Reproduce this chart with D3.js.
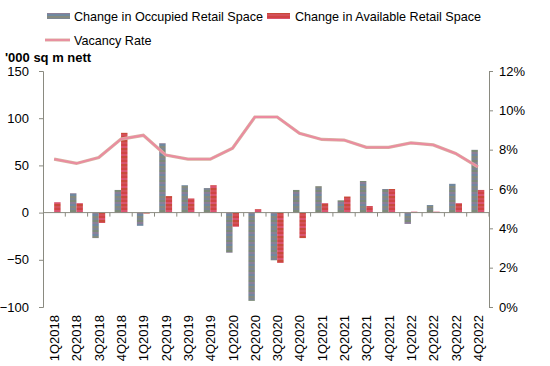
<!DOCTYPE html>
<html>
<head>
<meta charset="utf-8">
<script src="https://cdn.jsdelivr.net/npm/d3@7"></script>
<style>
  body { margin: 0; background: #fff; }
  text { font-family: "Liberation Sans", Arial, sans-serif; }
</style>
</head>
<body>
<script>
// retail space chart
const quarters = ["1Q2018","2Q2018","3Q2018","4Q2018","1Q2019","2Q2019","3Q2019","4Q2019",
  "1Q2020","2Q2020","3Q2020","4Q2020","1Q2021","2Q2021","3Q2021","4Q2021",
  "1Q2022","2Q2022","3Q2022","4Q2022"];
const occupied = [0, 20.5, -27, 24, -14, 73.5, 29, 26, -42.5, -93.5, -50.5, 24, 28, 13, 33.5, 25, -12, 8, 30.5, 66.5];
const available = [11, 10, -11, 84.5, -1, 17.5, 15, 29, -15, 3.6, -53.3, -27, 10, 17, 7, 25, 1, 1, 10, 24];
const vacancy = [7.52, 7.3, 7.6, 8.54, 8.73, 7.73, 7.52, 7.52, 8.07, 9.66, 9.66, 8.83, 8.52, 8.49, 8.12, 8.12, 8.34, 8.24, 7.81, 7.13];
const leftTicks = [-100, -50, 0, 50, 100, 150];
const rightTicks = [0, 2, 4, 6, 8, 10, 12];

const width = 550, height = 366;
const m = { left: 43, right: 61, top: 71, bottom: 59 };

const svg = d3.select("body").append("svg")
  .attr("width", width).attr("height", height);

// mottled fills
const defs = svg.append("defs");
function stripes(id, cols) {
  const p = defs.append("pattern").attr("id", id)
    .attr("patternUnits", "userSpaceOnUse")
    .attr("width", 4).attr("height", cols.length * 2);
  cols.forEach((c, i) => {
    p.append("rect").attr("x", 0).attr("y", i * 2).attr("width", 4).attr("height", 2).attr("fill", c);
  });
}
stripes("occ", ["#7c8a78", "#8c7f98", "#7088a0", "#858a7e", "#7d8694"]);
stripes("avail", ["#d04444", "#da5470", "#c84a3a", "#d4505a"]);

const x = d3.scaleBand().domain(quarters).range([m.left, width - m.right]);
const xIn = d3.scaleBand().domain(["occ", "avail"]).range([0, x.bandwidth()]).paddingOuter(0.73);
const y = d3.scaleLinear().domain([-100, 150]).range([height - m.bottom, m.top]);
const y2 = d3.scaleLinear().domain([0, 12]).range([height - m.bottom, m.top]);

const axisCol = "#8a8a80";

// left axis
const gl = svg.append("g").attr("transform", `translate(${m.left},0)`)
  .call(d3.axisLeft(y).tickValues(leftTicks).tickSize(4).tickPadding(10));
gl.select(".domain").attr("stroke", axisCol);
gl.selectAll(".tick line").attr("stroke", axisCol);
gl.selectAll(".tick text").attr("font-size", 13).attr("fill", "#000");

// right axis
const gr = svg.append("g").attr("transform", `translate(${width - m.right},0)`)
  .call(d3.axisRight(y2).tickValues(rightTicks).tickSize(4).tickPadding(6).tickFormat(d => d + "%"));
gr.select(".domain").attr("stroke", axisCol);
gr.selectAll(".tick line").attr("stroke", axisCol);
gr.selectAll(".tick text").attr("font-size", 13).attr("fill", "#000");

// bars
const bars = quarters.map((q, i) => [
  { q, k: "occ", v: occupied[i] },
  { q, k: "avail", v: available[i] }
]).flat();

svg.append("g").selectAll("rect")
  .data(bars.filter(d => d.v !== 0))
  .join("rect")
  .attr("x", d => x(d.q) + xIn(d.k))
  .attr("width", xIn.bandwidth())
  .attr("y", d => y(Math.max(0, d.v)))
  .attr("height", d => Math.abs(y(d.v) - y(0)))
  .attr("fill", d => d.k === "occ" ? "url(#occ)" : "url(#avail)");

// zero axis with category ticks
const gx = svg.append("g").attr("transform", `translate(0,${y(0)})`);
gx.append("line").attr("x1", m.left).attr("x2", width - m.right)
  .attr("stroke", axisCol);
gx.selectAll("line.t").data(quarters.slice(1).concat(["end"]))
  .join("line").attr("class", "t")
  .attr("x1", (d, i) => i < quarters.length - 1 ? x(d) : width - m.right)
  .attr("x2", (d, i) => i < quarters.length - 1 ? x(d) : width - m.right)
  .attr("y1", 0).attr("y2", 4).attr("stroke", axisCol);

// category labels
svg.append("g").selectAll("text").data(quarters).join("text")
  .attr("transform", d => `translate(${x(d) + x.bandwidth() / 2 + 5},${height - m.bottom + 8}) rotate(-90)`)
  .attr("text-anchor", "end")
  .attr("font-size", 13)
  .text(d => d);

// vacancy line
const line = d3.line()
  .x((d, i) => x(quarters[i]) + x.bandwidth() / 2)
  .y(d => y2(d));
svg.append("path").datum(vacancy)
  .attr("d", line)
  .attr("fill", "none")
  .attr("stroke", "#d8b0a0")
  .attr("stroke-width", 3.2);
svg.append("path").datum(vacancy)
  .attr("d", line)
  .attr("fill", "none")
  .attr("stroke", "#ec8aa0")
  .attr("stroke-width", 1.8);

// unit label
svg.append("text").attr("x", 5).attr("y", 62)
  .attr("font-size", 13).attr("font-weight", "bold")
  .text("'000 sq m nett");

// legend
const leg = svg.append("g").attr("font-size", 12.6);
leg.append("rect").attr("x", 47).attr("y", 13).attr("width", 23).attr("height", 6).attr("fill", "url(#occ)");
leg.append("text").attr("x", 74).attr("y", 21).text("Change in Occupied Retail Space");
leg.append("rect").attr("x", 267).attr("y", 13).attr("width", 23).attr("height", 6).attr("fill", "url(#avail)");
leg.append("text").attr("x", 295).attr("y", 21).text("Change in Available Retail Space");
leg.append("line").attr("x1", 45).attr("x2", 70).attr("y1", 40).attr("y2", 40)
  .attr("stroke", "#d8b0a0").attr("stroke-width", 3);
leg.append("line").attr("x1", 45).attr("x2", 70).attr("y1", 40).attr("y2", 40)
  .attr("stroke", "#ec8aa0").attr("stroke-width", 1.6);
leg.append("text").attr("x", 74).attr("y", 45).text("Vacancy Rate");
</script>
</body>
</html>
